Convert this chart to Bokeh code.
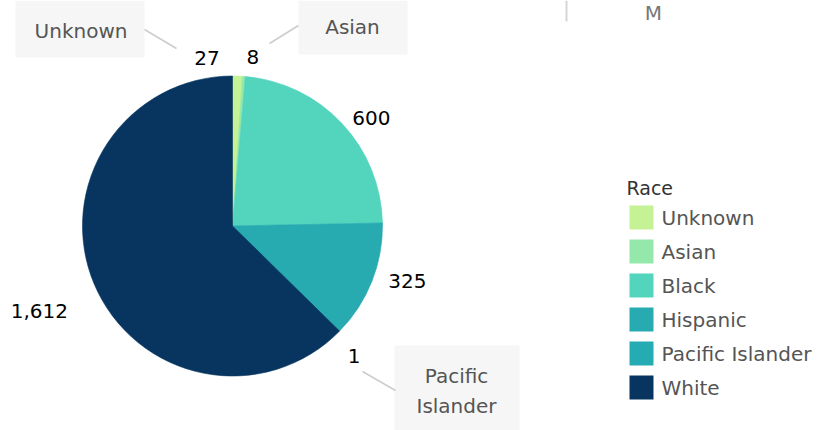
import math
from bokeh.plotting import figure
from bokeh.models import Range1d
from bokeh.embed import file_html
from bokeh.resources import INLINE
from bokeh.core.properties import value

# ---- data ----
races = ["Unknown", "Asian", "Black", "Hispanic", "Pacific Islander", "White"]
counts = [27, 8, 600, 325, 1, 1612]
colors = ["#c6f296", "#94e8a9", "#52d4bd", "#27aab0", "#25acb2", "#07355f"]
legend_title = "Race"
callout_races = ["Unknown", "Asian", "Pacific Islander"]

# ---- layout / style ----
FONT = value("DejaVu Sans")
W, H = 820, 430


def Y(py):
    return H - py


p = figure(width=W, height=H, x_range=Range1d(0, W), y_range=Range1d(0, H),
           output_backend="svg", toolbar_location=None, min_border=0,
           x_axis_type=None, y_axis_type=None)
p.grid.visible = False
p.outline_line_color = None
p.background_fill_color = "white"
p.border_fill_color = "white"

# pie
cx, cy, R = 232, 225.5, 150
total = sum(counts)
cum = [0]
for c in counts:
    cum.append(cum[-1] + c)
starts = [math.pi / 2 - cum[i] / total * 2 * math.pi for i in range(len(counts))]
ends = [math.pi / 2 - cum[i + 1] / total * 2 * math.pi for i in range(len(counts))]
p.wedge(x=cx, y=Y(cy), radius=R, radius_units="screen", start_angle=starts,
        end_angle=ends, direction="clock", fill_color=colors, line_color=colors,
        line_width=0.6)

# value labels: anchored at mid-angle just outside the pie, then nudged
lab_r = 160
nudge_x = [-18, 2, 3, 7, 1, -17]
nudge_y = [-8, -9, 1, -4, 18, 23]
aligns = ["right", "left", "left", "left", "left", "right"]
lx, ly, lt = [], [], []
for i, c in enumerate(counts):
    mid = (cum[i] + cum[i + 1]) / 2 / total * 2 * math.pi
    ax = cx + lab_r * math.sin(mid) + nudge_x[i]
    ay = cy - lab_r * math.cos(mid) + nudge_y[i]
    lx.append(ax)
    ly.append(Y(ay))
    lt.append(f"{c:,}")
p.text(x=lx, y=ly, text=lt, text_align=aligns, text_baseline="middle",
       text_font=FONT, text_font_size="20px", text_color="#000000")

# callout boxes
box_l = [15, 298, 394]
box_r = [144, 407, 519]
box_t = [0, 0, 345]
box_b = [57, 54, 430]
p.quad(left=box_l, right=box_r, top=[Y(v) for v in box_t], bottom=[Y(v) for v in box_b],
       fill_color="#f6f6f6", line_color=None)
lead_x = [[144, 176], [298, 269], [362, 395]]
lead_y = [[Y(29), Y(48)], [Y(25), Y(43)], [Y(371), Y(390)]]
p.multi_line(xs=lead_x, ys=lead_y, line_color="#cccccc", line_width=1.5)
ct_x = [80.5, 352, 456, 456]
ct_y = [Y(30), Y(26), Y(375), Y(405)]
ct_t = [callout_races[0], callout_races[1]] + callout_races[2].split(" ")
p.text(x=ct_x, y=ct_y, text=ct_t, text_align="center", text_baseline="middle",
       text_font=FONT, text_font_size="20px", text_color="#555555")

# legend
p.text(x=[626], y=[Y(187)], text=[legend_title], text_align="left", text_baseline="middle",
       text_font=FONT, text_font_size="19px", text_color="#333333")
leg_y = [Y(217 + 34 * i) for i in range(len(races))]
p.rect(x=[641] * len(races), y=leg_y, width=24, height=24, fill_color=colors, line_color=None)
p.text(x=[661] * len(races), y=leg_y, text=races, text_align="left", text_baseline="middle",
       text_font=FONT, text_font_size="20px", text_color="#555555")

# fragment of neighbouring view at the top right
p.line(x=[566, 566], y=[Y(0), Y(21)], line_color="#d6d6d6", line_width=2)
p.text(x=[653], y=[Y(12)], text=["M"], text_align="center", text_baseline="alphabetic",
       text_font=FONT, text_font_size="20px", text_color="#777777")

open("out.html", "w").write(file_html(p, INLINE))
